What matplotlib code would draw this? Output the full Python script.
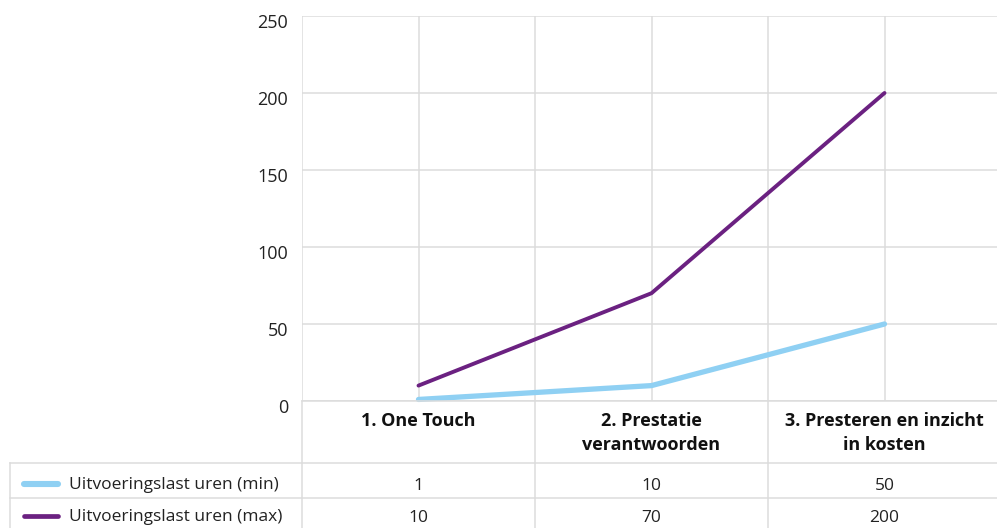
import numpy as np
import matplotlib.pyplot as plt
import matplotlib.transforms as mtransforms
from matplotlib.lines import Line2D

plt.rcParams['font.family'] = ['Open Sans', 'DejaVu Sans']

categories = ['1. One Touch', '2. Prestatie\nverantwoorden', '3. Presteren en inzicht\nin kosten']
series_names = ['Uitvoeringslast uren (min)', 'Uitvoeringslast uren (max)']
uren_min = [1, 10, 50]
uren_max = [10, 70, 200]
yticks = [0, 50, 100, 150, 200, 250]

colors = ['#8fd0f3', '#6b2181']
widths = [3.8, 2.8]
grid_c = '#dcdcdc'

W, H = 997, 528
fig = plt.figure(figsize=(W / 100, H / 100), dpi=100)

def fx(px):
    return px / W

def fy(py):
    return 1 - py / H

left, right, top, bottom = 302, 1001, 16, 401
ax = fig.add_axes([fx(left), fy(bottom), fx(right - left), fy(top) - fy(bottom)])
ax.set_xlim(-0.5, 2.5)
ax.set_ylim(0, 250)
ax.set_yticks(yticks)
ax.set_xticks(np.arange(-0.5, 2.51, 0.5))
ax.tick_params(length=0, labelsize=13, colors='#222222', pad=10)
ax.set_xticklabels([])
# labels sit a few pixels below their gridline
shift = mtransforms.ScaledTranslation(0, -5 / 100, fig.dpi_scale_trans)
for lab in ax.get_yticklabels():
    lab.set_transform(lab.get_transform() + shift)
for s in ax.spines.values():
    s.set_visible(False)
ax.grid(True, color=grid_c, lw=1.1)
ax.set_axisbelow(True)

x = np.arange(len(categories))
for vals, c, w in zip([uren_min, uren_max], colors, widths):
    ax.plot(x, vals, color=c, lw=w, solid_capstyle='round', clip_on=False)

# data table below the chart
def hline(py, x0, x1):
    fig.add_artist(Line2D([fx(x0), fx(x1)], [fy(py), fy(py)], color=grid_c, lw=1.1))

def vline(px, y0, y1):
    fig.add_artist(Line2D([fx(px), fx(px)], [fy(y0), fy(y1)], color=grid_c, lw=1.1))

row_centers = [485, 517]
hline(bottom, left, W)
for rt in [463, 498]:
    hline(rt, 10, W)
vline(10, 463, H)
for b in [left, 535, 768]:
    vline(b, bottom, H)

col_w = (right - left) / len(categories)
for i, cat in enumerate(categories):
    cx = left + col_w * (i + 0.5)
    fig.text(fx(cx), fy(412), cat, ha='center', va='top', fontsize=13,
             fontweight='bold', color='#111111', linespacing=1.45)

for r, (name, vals, c, w) in enumerate(zip(series_names, [uren_min, uren_max], colors, widths)):
    cy = row_centers[r]
    fig.add_artist(Line2D([fx(24), fx(58)], [fy(cy - 1), fy(cy - 1)], color=c, lw=w + 0.6,
                          solid_capstyle='round'))
    fig.text(fx(69), fy(cy), name, ha='left', va='center', fontsize=12.5, color='#222222')
    for i, v in enumerate(vals):
        cx = left + col_w * (i + 0.5)
        fig.text(fx(cx), fy(cy + 1), str(v), ha='center', va='center', fontsize=12.5,
                 color='#222222')

fig.savefig('out.png', dpi=100)
